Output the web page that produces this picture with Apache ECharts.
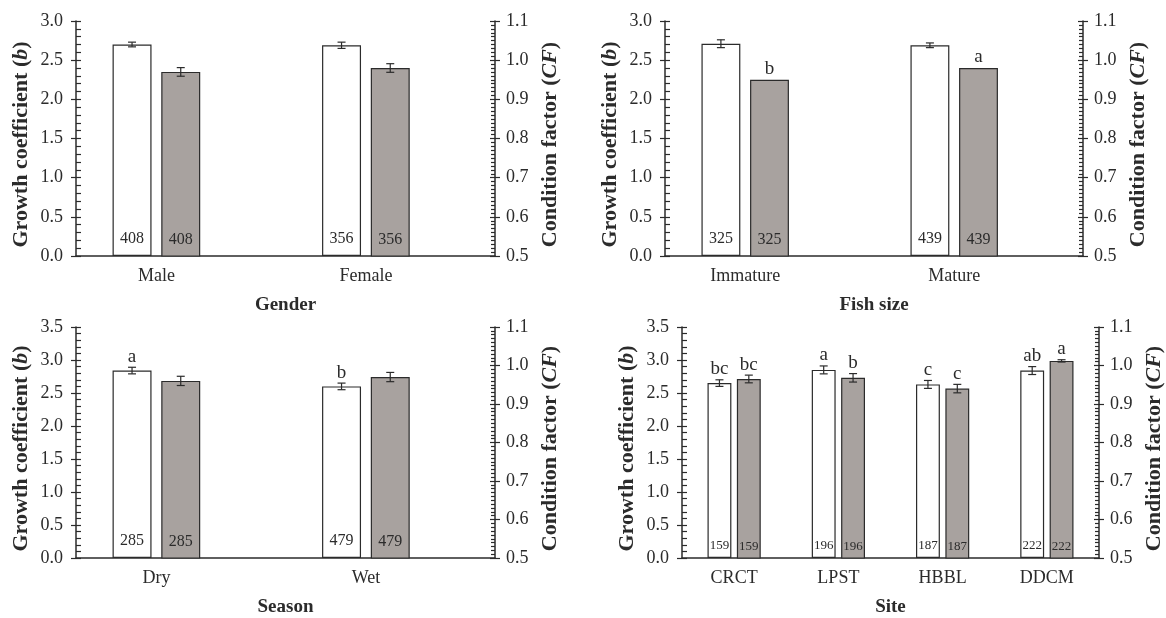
<!DOCTYPE html>
<html>
<head>
<meta charset="utf-8">
<script src="https://cdn.jsdelivr.net/npm/echarts@6/dist/echarts.min.js"></script>
<style>
  html, body { margin: 0; padding: 0; background: #fff; }
  #main { width: 1166px; height: 618px; }
</style>
</head>
<body>
<div id="main"></div>
<script>
// Gender
const genderCats = ['Male', 'Female'];
const genderB = [2.70, 2.69];
const genderBErr = [0.03, 0.04];
const genderCF = [0.97, 0.98];
const genderCFErr = [0.011, 0.011];
const genderN = [408, 356];
const genderBLetters = ['', ''];
const genderCFLetters = ['', ''];

// Fish size
const sizeCats = ['Immature', 'Mature'];
const sizeB = [2.71, 2.69];
const sizeBErr = [0.05, 0.03];
const sizeCF = [0.95, 0.98];
const sizeCFErr = [0, 0];
const sizeN = [325, 439];
const sizeBLetters = ['', ''];
const sizeCFLetters = ['b', 'a'];

// Season
const seasonCats = ['Dry', 'Wet'];
const seasonB = [2.84, 2.60];
const seasonBErr = [0.05, 0.05];
const seasonCF = [0.96, 0.97];
const seasonCFErr = [0.012, 0.012];
const seasonN = [285, 479];
const seasonBLetters = ['a', 'b'];
const seasonCFLetters = ['', ''];

// Site
const siteCats = ['CRCT', 'LPST', 'HBBL', 'DDCM'];
const siteB = [2.65, 2.85, 2.63, 2.84];
const siteBErr = [0.05, 0.06, 0.06, 0.06];
const siteCF = [0.965, 0.968, 0.94, 1.012];
const siteCFErr = [0.010, 0.011, 0.011, 0.003];
const siteN = [159, 196, 187, 222];
const siteBLetters = ['bc', 'a', 'c', 'ab'];
const siteCFLetters = ['bc', 'b', 'c', 'a'];

const FONT = "'Liberation Serif', 'Times New Roman', serif";
const INK = '#2b2b2b';
const GREY = '#a8a29f';
const TICK_SIZE = 18;
const TITLE_SIZE = 22;

const option = { animation: false, grid: [], xAxis: [], yAxis: [], series: [] };

// error bars + significance letters, drawn relative to the category band
function errSeries(xi, yi, vals, errs, letters, shiftFrac) {
  return {
    type: 'custom', xAxisIndex: xi, yAxisIndex: yi, z: 4, silent: true,
    data: vals.map((v, i) => [i, v, errs[i]]),
    renderItem: function (params, api) {
      const i = api.value(0), v = api.value(1), e = api.value(2);
      const band = api.size([1, 0])[0];
      const x = api.coord([i, v])[0] + shiftFrac * band;
      const yTop = api.coord([i, v + e])[1];
      const yBot = api.coord([i, v - e])[1];
      const kids = [];
      const st = { stroke: INK, lineWidth: 1.2 };
      if (e > 0) {
        kids.push({ type: 'line', shape: { x1: x, y1: yTop, x2: x, y2: yBot }, style: st });
        kids.push({ type: 'line', shape: { x1: x - 4, y1: yTop, x2: x + 4, y2: yTop }, style: st });
        kids.push({ type: 'line', shape: { x1: x - 4, y1: yBot, x2: x + 4, y2: yBot }, style: st });
      }
      const letter = letters[params.dataIndex];
      if (letter) {
        kids.push({
          type: 'text', x: x, y: yTop - 1,
          style: { text: letter, align: 'center', verticalAlign: 'bottom', fontSize: 19, fontFamily: FONT, fill: INK }
        });
      }
      return { type: 'group', children: kids };
    }
  };
}

function addPanel(p) {
  const w = parseFloat(p.barWidth) / 100;
  const step = w * (1 + parseFloat(p.barGap) / 100);
  const band = p.width / p.cats.length;
  // category names sit under the middle of the bar pair
  const labelPad = p.centerTick ? step * band : 0;

  const gi = option.grid.length;
  option.grid.push({ left: p.left, top: p.top, width: p.width, height: p.height });

  const xi = option.xAxis.length;
  option.xAxis.push({
    type: 'category', gridIndex: gi, data: p.cats, position: 'bottom',
    name: p.title, nameLocation: 'middle', nameGap: 40,
    nameTextStyle: { fontFamily: FONT, fontWeight: 'bold', fontSize: 19, color: INK },
    axisLine: { onZero: false, lineStyle: { color: INK, width: 1.5 } },
    axisTick: { length: 5, lineStyle: { color: INK, width: 1.2 } },
    axisLabel: {
      interval: 0, hideOverlap: false,
      fontFamily: FONT, fontSize: TICK_SIZE, color: INK, margin: 11,
      formatter: v => '{c|' + v + '}',
      rich: { c: { fontFamily: FONT, fontSize: TICK_SIZE, color: INK, padding: [0, labelPad, 0, 0] } }
    },
    splitLine: { show: false }
  });
  if (p.centerTick) {
    option.xAxis.push({
      type: 'category', gridIndex: gi, data: p.cats, position: 'bottom', z: 5,
      axisLine: { show: false, onZero: false }, axisLabel: { show: false },
      axisTick: { inside: true, alignWithLabel: true, length: 5, lineStyle: { color: INK, width: 1.2 } },
      splitLine: { show: false }
    });
  }

  const tickStyle = { color: INK, width: 1.2 };
  const titleStyle = {
    fontFamily: FONT, fontWeight: 'bold', fontSize: TITLE_SIZE, color: INK, padding: [0, 12, 0, 0],
    rich: { i: { fontFamily: FONT, fontWeight: 'bold', fontStyle: 'italic', fontSize: TITLE_SIZE, color: INK } }
  };
  const yl = option.yAxis.length;
  // left main axis
  option.yAxis.push({
    type: 'value', gridIndex: gi, position: 'left', min: 0, max: p.bMax, interval: 0.5,
    name: 'Growth coefficient ({i|b})', nameLocation: 'middle', nameGap: 44, nameTextStyle: titleStyle,
    axisLine: { show: true, onZero: false, lineStyle: { color: INK, width: 1.5 } },
    axisTick: { show: true, inside: true, length: 5, lineStyle: tickStyle },
    minorTick: { show: true, splitNumber: 5, length: 5, lineStyle: tickStyle },
    axisLabel: { fontFamily: FONT, fontSize: TICK_SIZE, color: INK, margin: 13, formatter: v => v.toFixed(1) },
    splitLine: { show: false }, minorSplitLine: { show: false }
  });
  // right main axis
  option.yAxis.push({
    type: 'value', gridIndex: gi, position: 'right', min: 0.5, max: 1.1, interval: 0.1,
    name: 'Condition factor ({i|CF})', nameLocation: 'middle', nameGap: 44, nameTextStyle: titleStyle,
    axisLine: { show: true, onZero: false, lineStyle: { color: INK, width: 1.5 } },
    axisTick: { show: true, inside: true, length: 5, lineStyle: tickStyle },
    minorTick: { show: true, splitNumber: 10, length: 4, lineStyle: tickStyle },
    axisLabel: { fontFamily: FONT, fontSize: TICK_SIZE, color: INK, margin: 11, formatter: v => v.toFixed(1) },
    splitLine: { show: false }, minorSplitLine: { show: false }
  });
  // outer halves of the major ticks
  option.yAxis.push({
    type: 'value', gridIndex: gi, position: 'left', min: 0, max: p.bMax, interval: 0.5,
    axisLine: { show: false }, axisLabel: { show: false },
    axisTick: { show: true, length: 5, lineStyle: tickStyle }, splitLine: { show: false }
  });
  option.yAxis.push({
    type: 'value', gridIndex: gi, position: 'right', min: 0.5, max: 1.1, interval: 0.1,
    axisLine: { show: false }, axisLabel: { show: false },
    axisTick: { show: true, length: 5, lineStyle: tickStyle }, splitLine: { show: false }
  });

  const nLabel = {
    show: true, position: 'insideBottom', distance: p.nDist,
    fontFamily: FONT, fontSize: p.nSize, color: INK,
    formatter: prm => p.n[prm.dataIndex]
  };
  option.series.push({
    type: 'bar', xAxisIndex: xi, yAxisIndex: yl, data: p.b,
    barWidth: p.barWidth, barGap: p.barGap,
    itemStyle: { color: '#fff', borderColor: INK, borderWidth: 1.2 }, label: nLabel
  });
  option.series.push({
    type: 'bar', xAxisIndex: xi, yAxisIndex: yl + 1, data: p.cf,
    barWidth: p.barWidth, barGap: p.barGap,
    itemStyle: { color: GREY, borderColor: INK, borderWidth: 1.2 }, label: nLabel
  });
  if (p.centerTick) {
    // empty spacer slot so the grey bar sits on the category centre
    option.series.push({ type: 'bar', xAxisIndex: xi, yAxisIndex: yl, data: [], barWidth: p.barWidth, barGap: p.barGap });
  }

  const shiftB = p.centerTick ? -step : -step / 2;
  const shiftCF = p.centerTick ? 0 : step / 2;
  option.series.push(errSeries(xi, yl, p.b, p.bErr, p.bLetters, shiftB));
  option.series.push(errSeries(xi, yl + 1, p.cf, p.cfErr, p.cfLetters, shiftCF));
}

addPanel({
  left: 76, top: 21, width: 419, height: 235, title: 'Gender', bMax: 3,
  cats: genderCats, b: genderB, bErr: genderBErr, cf: genderCF, cfErr: genderCFErr, n: genderN,
  bLetters: genderBLetters, cfLetters: genderCFLetters,
  barWidth: '18.6%', barGap: '25%', centerTick: true, nSize: 16, nDist: 9
});
addPanel({
  left: 665, top: 21, width: 418, height: 235, title: 'Fish size', bMax: 3,
  cats: sizeCats, b: sizeB, bErr: sizeBErr, cf: sizeCF, cfErr: sizeCFErr, n: sizeN,
  bLetters: sizeBLetters, cfLetters: sizeCFLetters,
  barWidth: '18.6%', barGap: '25%', centerTick: true, nSize: 16, nDist: 9
});
addPanel({
  left: 76, top: 327, width: 419, height: 234, title: 'Season', bMax: 3.5,
  cats: seasonCats, b: seasonB, bErr: seasonBErr, cf: seasonCF, cfErr: seasonCFErr, n: seasonN,
  bLetters: seasonBLetters, cfLetters: seasonCFLetters,
  barWidth: '18.6%', barGap: '25%', centerTick: true, nSize: 16, nDist: 9
});
addPanel({
  left: 682, top: 327, width: 420, height: 235, title: 'Site', bMax: 3.5,
  cats: siteCats, b: siteB, bErr: siteBErr, cf: siteCF, cfErr: siteCFErr, n: siteN,
  bLetters: siteBLetters, cfLetters: siteCFLetters,
  barWidth: '22.9%', barGap: '23%', centerTick: false, nSize: 13, nDist: 6
});

const chart = echarts.init(document.getElementById('main'), null, { renderer: 'canvas' });
chart.setOption(option);
</script>
</body>
</html>
